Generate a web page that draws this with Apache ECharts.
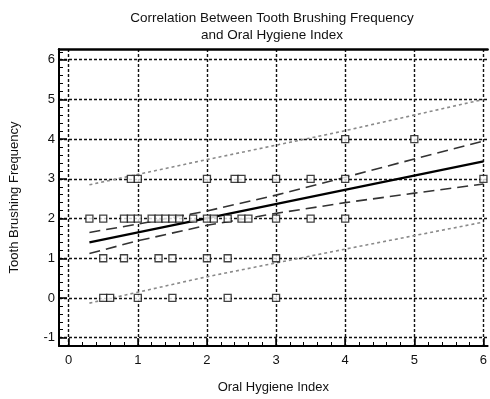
<!DOCTYPE html>
<html>
<head>
<meta charset="utf-8">
<script src="https://cdn.jsdelivr.net/npm/echarts@6/dist/echarts.min.js"></script>
<style>html,body{margin:0;padding:0;background:#fff;}#chart{width:490px;height:399px;}</style>
</head>
<body>
<div id="chart"></div>
<script>
// ---- data ----
const xTickValues = [0, 1, 2, 3, 4, 5, 6];
const yTickValues = [-1, 0, 1, 2, 3, 4, 5, 6];

// observations: Oral Hygiene Index (x) and Tooth Brushing Frequency (y)
const ohiValues = [
  4.0, 5.0,
  0.9, 1.0, 2.0, 2.4, 2.5, 3.0, 3.5, 4.0, 6.0,
  0.3, 0.5, 0.8, 0.9, 1.0, 1.2, 1.3, 1.4, 1.5, 1.6, 1.8, 2.0, 2.1, 2.3, 2.5, 2.6, 3.0, 3.5, 4.0,
  0.5, 0.8, 1.3, 1.5, 2.0, 2.3, 3.0,
  0.5, 0.6, 1.0, 1.5, 2.3, 3.0
];
const brushValues = [
  4, 4,
  3, 3, 3, 3, 3, 3, 3, 3, 3,
  2, 2, 2, 2, 2, 2, 2, 2, 2, 2, 2, 2, 2, 2, 2, 2, 2, 2, 2,
  1, 1, 1, 1, 1, 1, 1,
  0, 0, 0, 0, 0, 0
];

// regression line
const fitX = [0.3, 6.0];
const fitY = [1.40, 3.44];

// confidence band (dashed)
const confX = [0.3, 1, 2, 3, 4, 5, 6];
const confUpper = [1.65, 1.86, 2.19, 2.59, 3.04, 3.50, 3.95];
const confLower = [1.12, 1.44, 1.83, 2.13, 2.40, 2.64, 2.87];

// prediction band (dotted grey)
const predX = [0.3, 1.96, 3.94, 6.0];
const predUpper = [2.85, 3.47, 4.19, 5.0];
const predLower = [-0.13, 0.52, 1.21, 1.91];

// ---- build ----
const zip = (xs, ys) => xs.map((x, i) => [x, ys[i]]);
const minorX = [], minorY = [];
for (let v = 0; v <= 6.001; v += 0.2) minorX.push(+v.toFixed(1));
for (let v = -1.2; v <= 6.201; v += 0.2) minorY.push(+v.toFixed(1));

const FONT = 'Liberation Sans, Arial, sans-serif';
const X_MIN = -0.14, X_MAX = 6.06, Y_MIN = -1.21, Y_MAX = 6.27;
const gridLine = { show: true, lineStyle: { color: '#111', width: 1.4, type: [3, 2] } };

const chart = echarts.init(document.getElementById('chart'), null, { renderer: 'canvas' });
chart.setOption({
  animation: false,
  backgroundColor: '#fff',
  title: {
    text: 'Correlation Between Tooth Brushing Frequency\nand Oral Hygiene Index',
    left: 272, top: 10, textAlign: 'center', padding: 0,
    textStyle: { fontFamily: FONT, fontSize: 13.5, fontWeight: 'normal', color: '#111', lineHeight: 17 }
  },
  grid: { left: 52, right: 0, top: 49, bottom: 43, containLabel: false },
  xAxis: [
    {
      type: 'value', position: 'bottom', min: X_MIN, max: X_MAX,
      name: 'Oral Hygiene Index', nameLocation: 'middle', nameGap: 35,
      nameTextStyle: { fontFamily: FONT, fontSize: 13, color: '#111' },
      axisLine: { show: true, onZero: false, lineStyle: { color: '#000', width: 2 } },
      axisTick: { show: true, inside: true, length: 8, customValues: xTickValues, lineStyle: { color: '#000', width: 1.5 } },
      axisLabel: { show: true, customValues: xTickValues, margin: 8, fontFamily: FONT, fontSize: 13, color: '#111' },
      splitLine: gridLine
    },
    {
      type: 'value', position: 'bottom', min: X_MIN, max: X_MAX,
      axisLine: { show: false, onZero: false },
      axisTick: { show: true, inside: true, length: 4, customValues: minorX, lineStyle: { color: '#000', width: 1 } },
      axisLabel: { show: false }, splitLine: { show: false }
    },
    {
      type: 'value', position: 'top', min: X_MIN, max: X_MAX,
      axisLine: { show: true, onZero: false, lineStyle: { color: '#000', width: 2.5 } },
      axisTick: { show: false }, axisLabel: { show: false }, splitLine: { show: false }
    }
  ],
  yAxis: [
    {
      type: 'value', position: 'left', min: Y_MIN, max: Y_MAX,
      name: 'Tooth Brushing Frequency', nameLocation: 'middle', nameGap: 38, nameRotate: 90,
      nameTextStyle: { fontFamily: FONT, fontSize: 13, color: '#111' },
      axisLine: { show: true, onZero: false, lineStyle: { color: '#000', width: 2 } },
      axisTick: { show: true, inside: true, length: 8, customValues: yTickValues, lineStyle: { color: '#000', width: 1.5 } },
      axisLabel: { show: true, customValues: yTickValues, margin: 4, fontFamily: FONT, fontSize: 13, color: '#111' },
      splitLine: gridLine
    },
    {
      type: 'value', position: 'left', min: Y_MIN, max: Y_MAX,
      axisLine: { show: false, onZero: false },
      axisTick: { show: true, inside: true, length: 4, customValues: minorY, lineStyle: { color: '#000', width: 1 } },
      axisLabel: { show: false }, splitLine: { show: false }
    }
  ],
  series: [
    {
      type: 'line', name: 'pred upper', data: zip(predX, predUpper), symbol: 'none', smooth: false,
      lineStyle: { color: '#8a8a8a', width: 1.6, type: [3, 3] }, z: 2
    },
    {
      type: 'line', name: 'pred lower', data: zip(predX, predLower), symbol: 'none', smooth: false,
      lineStyle: { color: '#8a8a8a', width: 1.6, type: [3, 3] }, z: 2
    },
    {
      type: 'line', name: 'conf upper', data: zip(confX, confUpper), symbol: 'none', smooth: false,
      lineStyle: { color: '#333', width: 1.6, type: [11, 6] }, z: 3
    },
    {
      type: 'line', name: 'conf lower', data: zip(confX, confLower), symbol: 'none', smooth: false,
      lineStyle: { color: '#333', width: 1.6, type: [11, 6] }, z: 3
    },
    {
      type: 'line', name: 'fit', data: zip(fitX, fitY), symbol: 'none',
      lineStyle: { color: '#000', width: 2.2, type: 'solid' }, z: 4
    },
    {
      type: 'scatter', name: 'obs', data: zip(ohiValues, brushValues), symbol: 'rect', symbolSize: 7,
      itemStyle: { color: '#fff', borderColor: '#111', borderWidth: 1.3 }, z: 5
    }
  ]
});
</script>
</body>
</html>
